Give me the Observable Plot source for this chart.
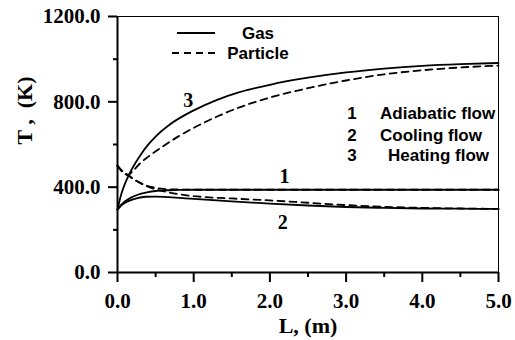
<!DOCTYPE html>
<html>
<head>
<meta charset="utf-8">
<script src="https://cdn.jsdelivr.net/npm/d3@7"></script>
<script src="https://cdn.jsdelivr.net/npm/@observablehq/plot@0.6"></script>
<style>
  html, body { margin: 0; padding: 0; background: #fff; }
  #chart { width: 515px; height: 340px; }
</style>
</head>
<body>
<div id="chart"></div>
<script>
// ---- data ----
// 1: adiabatic flow
const L_gasAdiabatic = [0, 0.05, 0.1, 0.2, 0.3, 0.4, 0.5, 0.6, 0.8, 1.0, 1.5, 2, 3, 4, 5];
const T_gasAdiabatic = [295, 318, 334, 355, 369, 377, 382, 385, 387, 388, 388, 388, 388, 388, 388];
const L_partAdiabatic = [0, 0.05, 0.1, 0.15, 0.2, 0.3, 0.4, 0.5, 0.6, 0.8, 1.0, 1.5, 2, 3, 4, 5];
const T_partAdiabatic = [500, 480, 464, 453, 440, 420, 405, 397, 392, 389, 388, 388, 388, 388, 388, 388];
// 2: cooling flow
const L_gasCooling = [0, 0.05, 0.1, 0.15, 0.25, 0.37, 0.5, 0.67, 1.0, 1.5, 2.0, 2.5, 3.0, 3.5, 4.0, 4.5, 5.0];
const T_gasCooling = [295, 314, 327, 336, 348, 355, 356, 353, 345, 333, 323, 314, 307, 303, 300, 299, 298];
const L_partCooling = [0, 0.05, 0.1, 0.15, 0.2, 0.3, 0.4, 0.5, 0.6, 0.8, 1.0, 1.5, 2.0, 2.5, 3.0, 3.5, 4.0, 4.5, 5.0];
const T_partCooling = [500, 480, 464, 453, 440, 419, 402, 390, 381, 367, 358, 347, 338, 327, 316, 308, 303, 300, 298];
// 3: heating flow
const L_gasHeating = [0, 0.05, 0.1, 0.2, 0.3, 0.4, 0.5, 0.7, 1.0, 1.3, 1.6, 2.0, 2.5, 3.0, 3.5, 4.0, 4.5, 5.0];
const T_gasHeating = [295, 368, 418, 492, 550, 598, 637, 697, 760, 808, 845, 880, 913, 938, 956, 969, 977, 982];
const L_partHeating = [0, 0.05, 0.1, 0.15, 0.2, 0.3, 0.4, 0.6, 0.8, 1.0, 1.3, 1.6, 2.0, 2.5, 3.0, 3.5, 4.0, 4.5, 5.0];
const T_partHeating = [500, 476, 460, 459, 475, 513, 542, 592, 638, 678, 730, 774, 820, 864, 900, 929, 948, 961, 970];

const xTicks = [0, 1, 2, 3, 4, 5];
const xMinor = [0.5, 1.5, 2.5, 3.5, 4.5];
const yTicks = [0, 400, 800, 1200];
const yMinor = [200, 600, 1000];
const seriesNames = ["Gas", "Particle"];
const flowNumbers = ["1", "2", "3"];
const flowNames = ["Adiabatic flow", "Cooling flow", "Heating flow"];
const xLabel = "L, (m)";
const yLabel = "T ,  (K)";

const rows = (L, T) => L.map((l, i) => ({L: l, T: T[i]}));

const serif = "'Liberation Serif', 'Times New Roman', serif";
const sans = "'Liberation Sans', Arial, sans-serif";
const lw = 1.8;
const dash = "7,5";

const solid = {x: "L", y: "T", stroke: "black", strokeWidth: lw, curve: "monotone-x"};
const dashed = {...solid, strokeDasharray: dash};

const chart = Plot.plot({
  width: 515,
  height: 340,
  marginLeft: 117,
  marginRight: 17,
  marginTop: 16,
  marginBottom: 68,
  x: {domain: [0, 5]},
  y: {domain: [0, 1200]},
  style: {fontFamily: serif, fontWeight: "bold", color: "#000", background: "white"},
  marks: [
    Plot.frame({stroke: "black", strokeWidth: 1}),
    Plot.axisX({ticks: xTicks, tickFormat: d3.format(".1f"), tickSize: 10, tickPadding: 11,
      strokeWidth: 2, fontSize: 21, fontWeight: "bold", fontFamily: serif, label: null}),
    Plot.axisX({ticks: xMinor, tickFormat: () => "", tickSize: 5, strokeWidth: 2, label: null}),
    Plot.axisY({ticks: yTicks, tickFormat: d3.format(".1f"), tickSize: 9, tickPadding: 8,
      strokeWidth: 2, fontSize: 21, fontWeight: "bold", fontFamily: serif, label: null}),
    Plot.axisY({ticks: yMinor, tickFormat: () => "", tickSize: 4, strokeWidth: 2, label: null}),
    Plot.ruleX([0], {stroke: "black", strokeWidth: 2}),
    Plot.ruleY([0], {stroke: "black", strokeWidth: 2}),
    Plot.line(rows(L_gasAdiabatic, T_gasAdiabatic), solid),
    Plot.line(rows(L_partAdiabatic, T_partAdiabatic), dashed),
    Plot.line(rows(L_gasCooling, T_gasCooling), solid),
    Plot.line(rows(L_partCooling, T_partCooling), dashed),
    Plot.line(rows(L_gasHeating, T_gasHeating), solid),
    Plot.line(rows(L_partHeating, T_partHeating), dashed),
    // curve annotations
    Plot.text([{L: 0.93, T: 806, t: flowNumbers[2]}, {L: 2.19, T: 448, t: flowNumbers[0]}, {L: 2.17, T: 236, t: flowNumbers[1]}],
      {x: "L", y: "T", text: "t", fontSize: 20, fontWeight: "bold", fontFamily: serif, fill: "#000"}),
    // axis titles
    Plot.text([xLabel], {frameAnchor: "bottom", dy: 53, text: d => d, fontSize: 22, fontWeight: "bold", fontFamily: serif, fill: "#000", lineAnchor: "middle"}),
    Plot.text([yLabel], {frameAnchor: "left", dx: -93, rotate: -90, text: d => d, fontSize: 22, fontWeight: "bold", fontFamily: serif, fill: "#000"})
  ]
});

// legends (annotation overlay)
const svg = d3.select(chart);
const g = svg.append("g").attr("font-family", sans).attr("font-weight", "bold").attr("font-size", 17).attr("fill", "#000");
g.append("line").attr("x1", 177).attr("x2", 215).attr("y1", 33).attr("y2", 33).attr("stroke", "black").attr("stroke-width", lw);
g.append("line").attr("x1", 172).attr("x2", 215).attr("y1", 53).attr("y2", 53).attr("stroke", "black").attr("stroke-width", lw).attr("stroke-dasharray", dash);
g.selectAll("text.ser").data(seriesNames).join("text").attr("class", "ser")
  .attr("x", 258).attr("y", (d, i) => 33 + i * 20).attr("dy", "0.35em").attr("text-anchor", "middle").text(d => d);
const flowY = [113, 135, 155];
const flowX = [380, 380, 388];
g.selectAll("text.num").data(flowNumbers).join("text").attr("class", "num")
  .attr("x", 352).attr("y", (d, i) => flowY[i]).attr("dy", "0.35em").attr("text-anchor", "middle").text(d => d);
g.selectAll("text.fname").data(flowNames).join("text").attr("class", "fname")
  .attr("x", (d, i) => flowX[i]).attr("y", (d, i) => flowY[i]).attr("dy", "0.35em").attr("text-anchor", "start").text(d => d);

document.getElementById("chart").appendChild(chart);
</script>
</body>
</html>
